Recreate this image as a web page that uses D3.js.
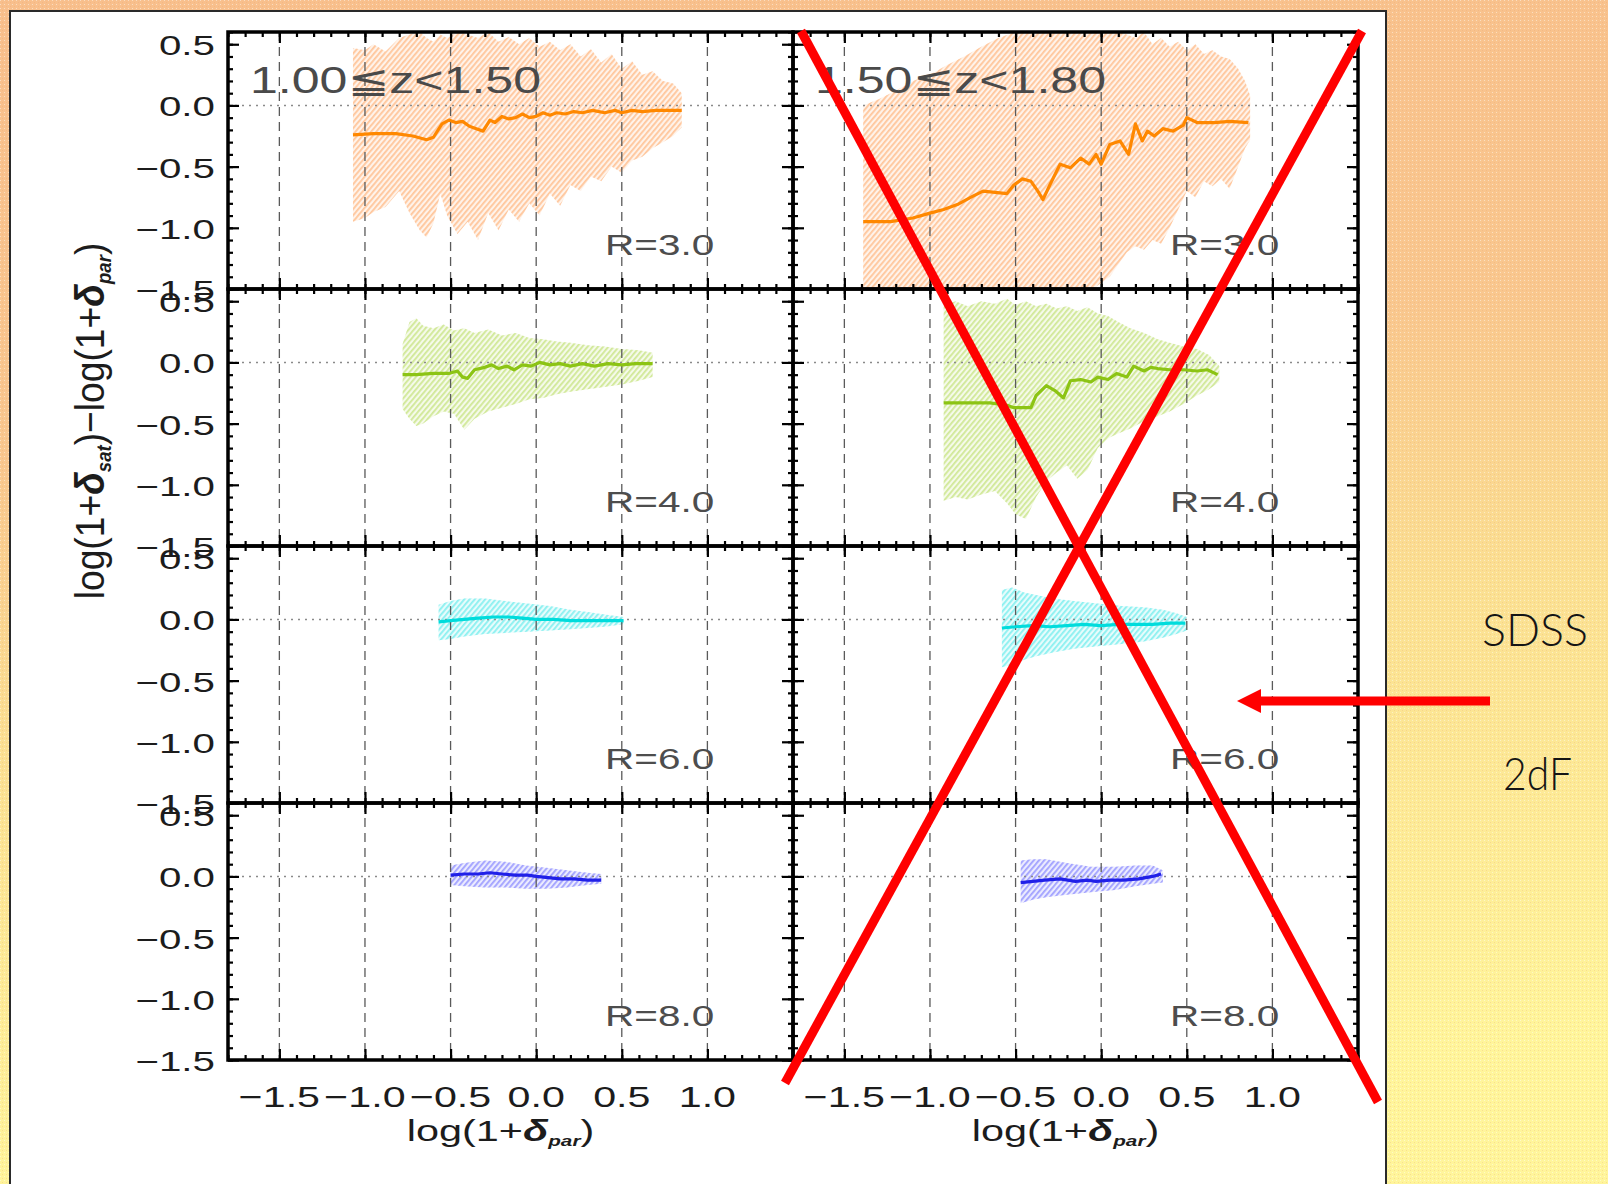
<!DOCTYPE html>
<html>
<head>
<meta charset="utf-8">
<script src="https://cdn.jsdelivr.net/npm/d3@7"></script>
<style>
  html, body { margin: 0; padding: 0; background: #fff; overflow: hidden; }
  svg { display: block; }
</style>
</head>
<body>
<svg id="fig" width="1608" height="1184"></svg>
<script>
// ---------------------------------------------------------------------------
// Data: residual log(1+δsat) − log(1+δpar) versus log(1+δpar)
// Two redshift bins (columns) × four smoothing radii (rows).
// median_* : [x, median]      band_* : [x, lower, upper]
// ---------------------------------------------------------------------------
const redshiftBins = ["1.00\u2266z<1.50", "1.50\u2266z<1.80"];
const smoothingRadii = ["R=3.0", "R=4.0", "R=6.0", "R=8.0"];
const xTicks = [-1.5, -1.0, -0.5, 0.0, 0.5, 1.0];
const yTicks = [0.5, 0.0, -0.5, -1.0, -1.5];
const xTickLabels = ["\u22121.5", "\u22121.0", "\u22120.5", "0.0", "0.5", "1.0"];
const yTickLabels = ["0.5", "0.0", "\u22120.5", "\u22121.0", "\u22121.5"];
const sideLabels = ["SDSS", "2dF"];

// R = 3.0
const median_z1_r3 = [[-1.07,-0.24],[-0.95,-0.23],[-0.82,-0.23],[-0.72,-0.25],[-0.64,-0.28],[-0.60,-0.26],[-0.55,-0.15],[-0.51,-0.12],[-0.47,-0.14],[-0.43,-0.13],[-0.39,-0.17],[-0.35,-0.19],[-0.31,-0.21],[-0.27,-0.12],[-0.24,-0.14],[-0.20,-0.09],[-0.16,-0.11],[-0.12,-0.10],[-0.08,-0.07],[-0.04,-0.10],[0.00,-0.09],[0.04,-0.06],[0.08,-0.08],[0.12,-0.06],[0.17,-0.07],[0.22,-0.05],[0.27,-0.06],[0.33,-0.04],[0.40,-0.06],[0.46,-0.04],[0.50,-0.06],[0.56,-0.04],[0.62,-0.05],[0.70,-0.04],[0.77,-0.04],[0.85,-0.04]];
const band_z1_r3 = [[-1.07,-0.95,0.47],[-1.00,-0.92,0.45],[-0.95,-0.87,0.50],[-0.88,-0.83,0.44],[-0.80,-0.70,0.55],[-0.74,-0.88,0.58],[-0.68,-1.02,0.60],[-0.64,-1.08,0.55],[-0.60,-0.96,0.52],[-0.56,-0.72,0.58],[-0.52,-0.90,0.55],[-0.46,-1.05,0.60],[-0.40,-0.95,0.58],[-0.34,-1.10,0.55],[-0.28,-0.88,0.60],[-0.22,-1.02,0.52],[-0.16,-0.85,0.56],[-0.10,-0.95,0.50],[-0.04,-0.80,0.55],[0.02,-0.90,0.48],[0.08,-0.72,0.52],[0.14,-0.82,0.45],[0.20,-0.65,0.50],[0.26,-0.70,0.40],[0.32,-0.58,0.46],[0.38,-0.62,0.35],[0.44,-0.50,0.42],[0.50,-0.55,0.30],[0.56,-0.45,0.36],[0.62,-0.42,0.25],[0.68,-0.35,0.28],[0.74,-0.30,0.20],[0.80,-0.25,0.18],[0.85,-0.18,0.10]];
const median_z2_r3 = [[-1.39,-0.95],[-1.23,-0.95],[-1.10,-0.92],[-1.00,-0.88],[-0.92,-0.85],[-0.84,-0.81],[-0.76,-0.75],[-0.69,-0.70],[-0.62,-0.71],[-0.55,-0.72],[-0.51,-0.65],[-0.46,-0.60],[-0.41,-0.62],[-0.37,-0.70],[-0.34,-0.77],[-0.30,-0.65],[-0.24,-0.48],[-0.18,-0.51],[-0.12,-0.43],[-0.07,-0.48],[-0.03,-0.40],[0.00,-0.48],[0.05,-0.32],[0.11,-0.29],[0.16,-0.40],[0.20,-0.15],[0.24,-0.29],[0.27,-0.21],[0.31,-0.25],[0.36,-0.19],[0.42,-0.21],[0.48,-0.16],[0.50,-0.10],[0.56,-0.14],[0.66,-0.14],[0.75,-0.13],[0.86,-0.14]];
const band_z2_r3 = [[-1.39,-1.50,0.00],[-1.30,-1.50,0.05],[-1.20,-1.50,0.12],[-1.10,-1.50,0.20],[-1.00,-1.50,0.25],[-0.90,-1.50,0.33],[-0.80,-1.50,0.40],[-0.70,-1.50,0.48],[-0.60,-1.50,0.55],[-0.50,-1.50,0.60],[-0.05,-1.50,0.60],[0.00,-1.45,0.60],[0.05,-1.40,0.60],[0.10,-1.30,0.60],[0.15,-1.20,0.58],[0.20,-1.15,0.55],[0.25,-1.18,0.60],[0.30,-1.10,0.50],[0.35,-1.13,0.55],[0.40,-1.00,0.48],[0.45,-0.85,0.52],[0.50,-0.70,0.45],[0.55,-0.75,0.50],[0.60,-0.62,0.42],[0.65,-0.66,0.45],[0.70,-0.60,0.40],[0.75,-0.68,0.38],[0.80,-0.50,0.30],[0.84,-0.35,0.20],[0.87,-0.28,0.08]];

// R = 4.0
const median_z1_r4 = [[-0.78,-0.10],[-0.70,-0.10],[-0.60,-0.09],[-0.51,-0.09],[-0.46,-0.07],[-0.43,-0.12],[-0.40,-0.13],[-0.36,-0.06],[-0.30,-0.04],[-0.26,-0.02],[-0.22,-0.05],[-0.17,-0.03],[-0.13,-0.06],[-0.08,-0.02],[-0.03,-0.03],[0.02,0.00],[0.08,-0.02],[0.14,-0.01],[0.20,-0.03],[0.27,-0.01],[0.34,-0.03],[0.42,-0.01],[0.50,-0.02],[0.58,-0.01],[0.68,-0.01]];
const band_z1_r4 = [[-0.78,-0.38,0.15],[-0.74,-0.46,0.33],[-0.70,-0.52,0.36],[-0.66,-0.50,0.30],[-0.60,-0.44,0.28],[-0.54,-0.40,0.31],[-0.48,-0.42,0.26],[-0.42,-0.55,0.28],[-0.36,-0.46,0.24],[-0.28,-0.40,0.27],[-0.20,-0.37,0.22],[-0.12,-0.34,0.24],[-0.04,-0.30,0.20],[0.04,-0.29,0.19],[0.12,-0.26,0.17],[0.20,-0.24,0.16],[0.30,-0.22,0.14],[0.40,-0.20,0.13],[0.50,-0.18,0.11],[0.60,-0.15,0.10],[0.68,-0.12,0.08]];
const median_z2_r4 = [[-0.92,-0.33],[-0.80,-0.33],[-0.65,-0.33],[-0.55,-0.35],[-0.51,-0.37],[-0.41,-0.37],[-0.38,-0.27],[-0.32,-0.19],[-0.27,-0.23],[-0.22,-0.29],[-0.18,-0.15],[-0.12,-0.14],[-0.06,-0.16],[-0.02,-0.12],[0.04,-0.14],[0.09,-0.09],[0.15,-0.12],[0.19,-0.03],[0.25,-0.07],[0.29,-0.04],[0.33,-0.05],[0.40,-0.06],[0.48,-0.06],[0.56,-0.07],[0.62,-0.06],[0.68,-0.10]];
const band_z2_r4 = [[-0.92,-1.13,0.47],[-0.85,-1.10,0.50],[-0.78,-1.12,0.46],[-0.70,-1.08,0.50],[-0.62,-1.05,0.48],[-0.55,-1.15,0.52],[-0.50,-1.24,0.47],[-0.44,-1.28,0.50],[-0.38,-1.10,0.46],[-0.32,-0.97,0.48],[-0.26,-0.90,0.44],[-0.20,-0.84,0.46],[-0.14,-0.95,0.42],[-0.08,-0.88,0.45],[-0.02,-0.70,0.40],[0.04,-0.62,0.38],[0.10,-0.58,0.33],[0.17,-0.54,0.28],[0.25,-0.48,0.24],[0.33,-0.44,0.19],[0.40,-0.40,0.16],[0.48,-0.34,0.13],[0.56,-0.27,0.11],[0.63,-0.22,0.06],[0.69,-0.16,-0.03]];

// R = 6.0
const median_z1_r6 = [[-0.57,-0.02],[-0.50,-0.01],[-0.42,0.00],[-0.34,0.01],[-0.25,0.02],[-0.16,0.02],[-0.08,0.01],[0.00,0.00],[0.10,0.00],[0.20,-0.01],[0.30,-0.01],[0.40,-0.01],[0.51,-0.01]];
const band_z1_r6 = [[-0.57,-0.17,0.12],[-0.50,-0.16,0.15],[-0.42,-0.14,0.17],[-0.30,-0.12,0.17],[-0.18,-0.11,0.15],[-0.05,-0.10,0.13],[0.08,-0.09,0.11],[0.20,-0.08,0.08],[0.30,-0.07,0.06],[0.40,-0.06,0.04],[0.51,-0.04,0.02]];
const median_z2_r6 = [[-0.58,-0.07],[-0.50,-0.06],[-0.40,-0.05],[-0.30,-0.06],[-0.20,-0.05],[-0.10,-0.04],[0.00,-0.05],[0.10,-0.04],[0.20,-0.04],[0.30,-0.04],[0.40,-0.03],[0.49,-0.03]];
const band_z2_r6 = [[-0.58,-0.39,0.24],[-0.52,-0.37,0.26],[-0.45,-0.33,0.22],[-0.38,-0.30,0.20],[-0.28,-0.27,0.17],[-0.16,-0.24,0.15],[-0.02,-0.22,0.13],[0.12,-0.20,0.11],[0.25,-0.18,0.10],[0.36,-0.15,0.08],[0.44,-0.12,0.05],[0.50,-0.09,0.02]];

// R = 8.0
const median_z1_r8 = [[-0.50,0.01],[-0.42,0.02],[-0.34,0.02],[-0.27,0.03],[-0.20,0.02],[-0.12,0.01],[-0.05,0.01],[0.00,0.00],[0.07,-0.01],[0.14,-0.02],[0.22,-0.02],[0.30,-0.03],[0.38,-0.03]];
const band_z1_r8 = [[-0.50,-0.07,0.09],[-0.42,-0.08,0.11],[-0.30,-0.09,0.13],[-0.18,-0.09,0.12],[-0.06,-0.10,0.09],[0.06,-0.10,0.07],[0.18,-0.09,0.05],[0.30,-0.07,0.03],[0.38,-0.06,0.02]];
const median_z2_r8 = [[-0.47,-0.05],[-0.40,-0.04],[-0.33,-0.03],[-0.24,-0.02],[-0.15,-0.04],[-0.08,-0.03],[-0.03,-0.04],[0.05,-0.03],[0.13,-0.03],[0.22,-0.02],[0.30,0.00],[0.35,0.02]];
const band_z2_r8 = [[-0.47,-0.22,0.13],[-0.40,-0.19,0.14],[-0.32,-0.17,0.14],[-0.20,-0.15,0.11],[-0.06,-0.13,0.08],[0.08,-0.11,0.08],[0.20,-0.08,0.09],[0.30,-0.06,0.09],[0.36,-0.05,0.05]];

const medians = [[median_z1_r3, median_z2_r3],[median_z1_r4, median_z2_r4],[median_z1_r6, median_z2_r6],[median_z1_r8, median_z2_r8]];
const bands   = [[band_z1_r3, band_z2_r3],[band_z1_r4, band_z2_r4],[band_z1_r6, band_z2_r6],[band_z1_r8, band_z2_r8]];

const lineColors = ["#ff8800", "#8cc414", "#00dcdc", "#2020e8"];
const bandColors = ["#ffa868", "#b8dc60", "#4ee8e8", "#7070ff"];

// ---------------------------------------------------------------------------
// Layout
// ---------------------------------------------------------------------------
const W = 1608, H = 1184;
const colX = [228, 793], colW = 565;
const rowY = [32, 289, 546, 803], rowH = 257;
const xDomain = [-1.8, 1.5], yDomain = [-1.5, 0.6];
const xMinor = d3.range(-18, 16).map(i => i / 10);
const yMinor = d3.range(-15, 7).map(i => i / 10);

const svg = d3.select("#fig");
const defs = svg.append("defs");

// slide background: warm orange fading to yellow, with a fine stipple
const grad = defs.append("linearGradient").attr("id", "slideBg")
  .attr("x1", 0).attr("y1", 0).attr("x2", 0.15).attr("y2", 1);
[[0, "#f8bf8c"], [0.38, "#f9c78e"], [0.62, "#fbe092"], [1, "#fff59b"]].forEach(([o, c]) =>
  grad.append("stop").attr("offset", o).attr("stop-color", c));
const stip = defs.append("pattern").attr("id", "stipple").attr("patternUnits", "userSpaceOnUse")
  .attr("width", 4).attr("height", 4);
stip.append("rect").attr("x", 0).attr("y", 0).attr("width", 1).attr("height", 1).attr("fill", "#ffffff").attr("opacity", 0.45);
stip.append("rect").attr("x", 2).attr("y", 2).attr("width", 1).attr("height", 1).attr("fill", "#e89a6a").attr("opacity", 0.25);

svg.append("rect").attr("width", W).attr("height", H).attr("fill", "url(#slideBg)");
svg.append("rect").attr("width", W).attr("height", H).attr("fill", "url(#stipple)");

// white figure card
svg.append("rect").attr("x", 10).attr("y", 11).attr("width", 1376).attr("height", H)
  .attr("fill", "#ffffff").attr("stroke", "#2a2a2a").attr("stroke-width", 2);

// hatching for the scatter envelopes
bandColors.forEach((c, i) => {
  const p = defs.append("pattern").attr("id", "hatch" + i).attr("patternUnits", "userSpaceOnUse")
    .attr("width", 4).attr("height", 4).attr("patternTransform", "rotate(40)");
  p.append("rect").attr("x", 0).attr("y", 0).attr("width", 1.8).attr("height", 4)
    .attr("fill", c).attr("opacity", 0.6);
});
// slightly softened envelope edges
defs.append("filter").attr("id", "soft").attr("x", "-5%").attr("y", "-5%").attr("width", "110%").attr("height", "110%")
  .append("feGaussianBlur").attr("stdDeviation", 0.45);

// helper for horizontally stretched labels
function label(g, str, x, y, opts) {
  const t = g.append("text")
    .attr("transform", `translate(${x},${y}) scale(${opts.sx || 1},${opts.sy || 1})`)
    .attr("text-anchor", opts.anchor || "start")
    .attr("font-family", opts.family || "'Liberation Sans', Arial, 'DejaVu Sans', sans-serif")
    .attr("font-size", opts.size)
    .attr("fill", opts.fill || "#1a1a1a")
    .text(str);
  if (opts.weight) t.attr("font-weight", opts.weight);
  return t;
}

const plot = svg.append("g");

for (let r = 0; r < 4; r++) {
  for (let c = 0; c < 2; c++) {
    const x0 = colX[c], y0 = rowY[r];
    const x = d3.scaleLinear().domain(xDomain).range([x0, x0 + colW]);
    const y = d3.scaleLinear().domain(yDomain).range([y0 + rowH, y0]);
    const g = plot.append("g");

    const clipId = `clip-${r}-${c}`;
    defs.append("clipPath").attr("id", clipId).append("rect")
      .attr("x", x0).attr("y", y0).attr("width", colW).attr("height", rowH);
    const inner = g.append("g").attr("clip-path", `url(#${clipId})`);

    // scatter envelope
    const area = d3.area().x(d => x(d[0])).y0(d => y(d[1])).y1(d => y(d[2]));
    const env = inner.append("g").attr("filter", "url(#soft)");
    env.append("path").datum(bands[r][c]).attr("d", area)
      .attr("fill", bandColors[r]).attr("opacity", 0.14);
    env.append("path").datum(bands[r][c]).attr("d", area)
      .attr("fill", `url(#hatch${r})`);

    // vertical dashed grid
    inner.selectAll("line.grid").data(xTicks).join("line")
      .attr("x1", d => x(d)).attr("x2", d => x(d))
      .attr("y1", y0).attr("y2", y0 + rowH)
      .attr("stroke", "#5a5a5a").attr("stroke-width", 1.3)
      .attr("stroke-dasharray", "9,6");
    // zero reference
    inner.append("line")
      .attr("x1", x0).attr("x2", x0 + colW).attr("y1", y(0)).attr("y2", y(0))
      .attr("stroke", "#8a8a8a").attr("stroke-width", 1.5).attr("stroke-dasharray", "2,5");

    // running median
    inner.append("path").datum(medians[r][c])
      .attr("d", d3.line().x(d => x(d[0])).y(d => y(d[1])))
      .attr("fill", "none").attr("stroke", lineColors[r]).attr("stroke-width", 3.2)
      .attr("stroke-linejoin", "round");

    // inward ticks on all four sides
    const axes = [
      [d3.axisBottom(x), `translate(0,${y0 + rowH})`, xTicks, xMinor],
      [d3.axisTop(x), `translate(0,${y0})`, xTicks, xMinor],
      [d3.axisLeft(y), `translate(${x0},0)`, yTicks, yMinor],
      [d3.axisRight(y), `translate(${x0 + colW},0)`, yTicks, yMinor]
    ];
    axes.forEach(([ax, tr, major, minor]) => {
      [[minor, 5], [major, 11]].forEach(([vals, len]) => {
        const a = g.append("g").attr("transform", tr)
          .call(ax.tickValues(vals).tickSize(-len).tickFormat(""));
        a.select(".domain").remove();
        a.selectAll("line").attr("stroke", "#000").attr("stroke-width", 2.2);
      });
    });
    g.append("rect").attr("x", x0).attr("y", y0).attr("width", colW).attr("height", rowH)
      .attr("fill", "none").attr("stroke", "#000").attr("stroke-width", 3.5);

    // y tick labels (left column only)
    if (c === 0) {
      yTicks.forEach((v, i) =>
        label(g, yTickLabels[i], x0 - 13, y(v) + 11, { size: 28, sx: 1.44, anchor: "end", fill: "#1c1c1c" }));
    }

    // radius tag
    label(g, smoothingRadii[r], x0 + colW - 188, y0 + 223, { size: 30, sx: 1.35, fill: "#4d4d4d" });

    // redshift tag
    if (r === 0) {
      g.append("text").attr("x", x0 + 22).attr("y", y0 + 61)
        .attr("font-family", "'Liberation Sans', 'DejaVu Sans', sans-serif")
        .attr("font-size", 36).attr("fill", "#4a4a4a")
        .attr("textLength", 291).attr("lengthAdjust", "spacingAndGlyphs")
        .text(redshiftBins[c]);
    }

    // bottom x tick labels and title
    if (r === 3) {
      xTicks.forEach((v, i) =>
        label(g, xTickLabels[i], x(v), y0 + rowH + 47, { size: 29, sx: 1.42, anchor: "middle", fill: "#1c1c1c" }));
      const t = g.append("text")
        .attr("transform", `translate(${x0 + colW / 2 - 10},${y0 + rowH + 81}) scale(1.38,1)`)
        .attr("text-anchor", "middle")
        .attr("font-family", "'Liberation Sans', Arial, sans-serif")
        .attr("font-size", 30).attr("fill", "#1c1c1c");
      t.append("tspan").text("log(1+");
      t.append("tspan").attr("font-weight", "bold").attr("font-style", "italic").text("\u03b4");
      t.append("tspan").attr("font-size", 15).attr("font-weight", "bold").attr("font-style", "italic").attr("dy", 5).text("par");
      t.append("tspan").attr("dy", -5).text(")");
    }
  }
}

// y-axis title
{
  const t = svg.append("text")
    .attr("transform", "translate(104,421) rotate(-90) scale(1.24,1.35)")
    .attr("text-anchor", "middle")
    .attr("font-family", "'Liberation Sans', Arial, sans-serif")
    .attr("font-size", 30).attr("fill", "#1c1c1c");
  t.append("tspan").text("log(1+");
  t.append("tspan").attr("font-weight", "bold").attr("font-style", "italic").text("\u03b4");
  t.append("tspan").attr("font-size", 15).attr("font-weight", "bold").attr("font-style", "italic").attr("dy", 5).text("sat");
  t.append("tspan").attr("dy", -5).text(")\u2212log(1+");
  t.append("tspan").attr("font-weight", "bold").attr("font-style", "italic").text("\u03b4");
  t.append("tspan").attr("font-size", 15).attr("font-weight", "bold").attr("font-style", "italic").attr("dy", 5).text("par");
  t.append("tspan").attr("dy", -5).text(")");
}

// red cross-out over the right-hand column
const right = colX[1] + colW, bottom = rowY[3] + rowH;
const cross = [
  [[colX[1] + 8, rowY[0] - 1], [right + 20, bottom + 42]],
  [[right + 4, rowY[0] - 1], [colX[1] - 8, bottom + 23]]
];
svg.selectAll("line.cross").data(cross).join("line")
  .attr("x1", d => d[0][0]).attr("y1", d => d[0][1])
  .attr("x2", d => d[1][0]).attr("y2", d => d[1][1])
  .attr("stroke", "#ff0000").attr("stroke-width", 9);

// arrow pointing from the survey labels into the chart
const arrowY = rowY[2] + 155, arrowTail = right + 132, arrowTip = right - 121;
svg.append("line").attr("x1", arrowTail).attr("y1", arrowY).attr("x2", arrowTip + 18).attr("y2", arrowY)
  .attr("stroke", "#ff0000").attr("stroke-width", 9);
svg.append("path")
  .attr("d", `M${arrowTip},${arrowY} L${arrowTip + 24},${arrowY - 12} L${arrowTip + 24},${arrowY + 12} Z`)
  .attr("fill", "#ff0000");

// survey labels
svg.append("text").attr("x", 1482).attr("y", 646)
  .attr("font-family", "Lato, 'Open Sans', sans-serif").attr("font-weight", 300)
  .attr("font-size", 46).attr("fill", "#151515")
  .attr("textLength", 106).attr("lengthAdjust", "spacingAndGlyphs").text(sideLabels[0]);
svg.append("text").attr("x", 1503).attr("y", 790)
  .attr("font-family", "Lato, 'Open Sans', sans-serif").attr("font-weight", 300)
  .attr("font-size", 46).attr("fill", "#151515")
  .attr("textLength", 69).attr("lengthAdjust", "spacingAndGlyphs").text(sideLabels[1]);
</script>
</body>
</html>
